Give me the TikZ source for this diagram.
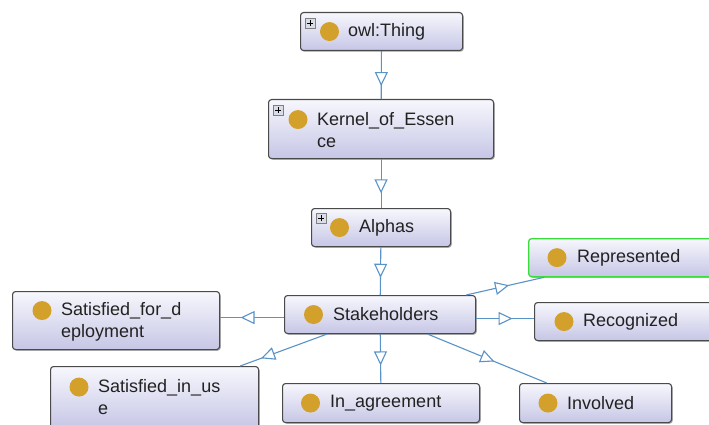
\documentclass[tikz,border=0pt]{standalone}
\usepackage{fontspec}
\setmainfont{Liberation Sans}
\usetikzlibrary{arrows.meta,decorations.markings,shadows}
\definecolor{linkblue}{HTML}{5A93C8}
\definecolor{boxtop}{HTML}{F7F7FD}
\definecolor{boxbot}{HTML}{C6C6E6}
\definecolor{boxline}{HTML}{4A4A4A}
\definecolor{golddot}{HTML}{D3A02C}
\definecolor{selgreen}{HTML}{3CDC3C}
\definecolor{txt}{HTML}{222222}
\definecolor{plusfill}{HTML}{D8DDE8}
\begin{document}
\begin{tikzpicture}[x=1pt,y=-1pt,
  cls/.style={draw=boxline, line width=1.1pt, rounded corners=3pt,
    top color=boxtop, bottom color=boxbot, anchor=north west, inner sep=0pt,
    drop shadow={shadow xshift=1.2pt, shadow yshift=-1.2pt, opacity=0.3, fill=black}},
  selected/.style={draw=selgreen, line width=1.3pt},
  dot/.style={circle, fill=golddot, minimum size=19pt, inner sep=0pt},
  lbl/.style={anchor=west, inner sep=0pt, text=txt, align=left,
    font=\fontsize{18}{22}\selectfont},
  plusicon/.style={rectangle, draw=gray, fill=plusfill, line width=0.5pt,
    minimum size=10pt, inner sep=0pt,
    path picture={\draw[black, line width=0.9pt]
      ([xshift=-3pt]path picture bounding box.center) -- ([xshift=3pt]path picture bounding box.center)
      ([yshift=-3pt]path picture bounding box.center) -- ([yshift=3pt]path picture bounding box.center);}},
  isa/.style={draw=linkblue, line width=1.1pt,
    postaction={decorate, decoration={markings,
      mark=at position #1 with {\arrow{Triangle[length=14pt, width=13pt, fill=white]}}}}}
]
\path[use as bounding box, fill=white] (0,0) rectangle (709,425);

% boxes
\node[cls, minimum width=162pt, minimum height=38pt] (thing) at (300,12) {};
\node[cls, minimum width=225pt, minimum height=59pt] (kernel) at (268,99) {};
\node[cls, minimum width=139pt, minimum height=38pt] (alphas) at (311,208) {};
\node[cls, minimum width=191pt, minimum height=38pt] (stake) at (284,295) {};
\node[cls, minimum width=207pt, minimum height=58pt] (sfd) at (12,291) {};
\node[cls, minimum width=208pt, minimum height=62pt] (siu) at (50,366) {};
\node[cls, minimum width=197pt, minimum height=39pt] (inag) at (282,383) {};
\node[cls, selected, minimum width=204pt, minimum height=38pt] (repr) at (528,238) {};
\node[cls, minimum width=204pt, minimum height=38pt] (recog) at (534,302) {};
\node[cls, minimum width=152pt, minimum height=39pt] (invol) at (519,383) {};

% plus icons
\node[plusicon] (thingplus) at ([xshift=10pt,yshift=-11pt]thing.north west) {};
\node[plusicon] (kernelplus) at ([xshift=10pt,yshift=-11pt]kernel.north west) {};
\node[plusicon] (alphasplus) at ([xshift=10pt,yshift=-10pt]alphas.north west) {};

% dots
\node[dot] (thingdot) at ([xshift=29.5pt]thing.west) {};
\node[dot] (kerneldot) at ([xshift=30pt,yshift=9.5pt]kernel.west) {};
\node[dot] (alphasdot) at ([xshift=28.5pt]alphas.west) {};
\node[dot] (stakedot) at ([xshift=29.5pt]stake.west) {};
\node[dot] (sfddot) at ([xshift=30pt,yshift=10pt]sfd.west) {};
\node[dot] (siudot) at ([xshift=29pt,yshift=10.5pt]siu.west) {};
\node[dot] (inagdot) at ([xshift=28.5pt]inag.west) {};
\node[dot] (reprdot) at ([xshift=29pt]repr.west) {};
\node[dot] (recogdot) at ([xshift=30pt]recog.west) {};
\node[dot] (involdot) at ([xshift=29pt]invol.west) {};

% labels
\node[lbl] (thinglbl) at ([xshift=48pt]thing.west) {owl:Thing};
\node[lbl] (kernellbl) at ([xshift=49pt,yshift=-1pt]kernel.west) {Kernel\_of\_Essen\\ce};
\node[lbl] (alphaslbl) at ([xshift=48pt]alphas.west) {Alphas};
\node[lbl] (stakelbl) at ([xshift=49pt]stake.west) {Stakeholders};
\node[lbl] (sfdlbl) at ([xshift=49pt,yshift=-1pt]sfd.west) {Satisfied\_for\_d\\eployment};
\node[lbl] (siulbl) at ([xshift=48pt]siu.west) {Satisfied\_in\_us\\e};
\node[lbl] (inaglbl) at ([xshift=48pt]inag.west) {In\_agreement};
\node[lbl] (reprlbl) at ([xshift=49pt]repr.west) {Represented};
\node[lbl] (recoglbl) at ([xshift=49pt]recog.west) {Recognized};
\node[lbl] (involbl) at ([xshift=48pt]invol.west) {Involved};

% connectors
\draw[isa=0.73] (thing) -- (kernel);
\draw[isa=0.7] (kernel) -- (alphas);
\draw[isa=0.64] (alphas) -- (stake);
\draw[isa=0.64] (stake) -- (inag);
\draw[isa=0.68] ([yshift=-3pt]stake.west) -- ([yshift=-3pt]stake.west -| sfd.east);
\draw[isa=0.63] ([yshift=-4pt]stake.east) -- ([yshift=-4pt]stake.east -| recog.west);
\draw[isa=0.76] (stake) -- (siu);
\draw[isa=0.56] (stake) -- (invol);
\draw[isa=0.55] (stake) -- (repr);
\end{tikzpicture}
\end{document}
